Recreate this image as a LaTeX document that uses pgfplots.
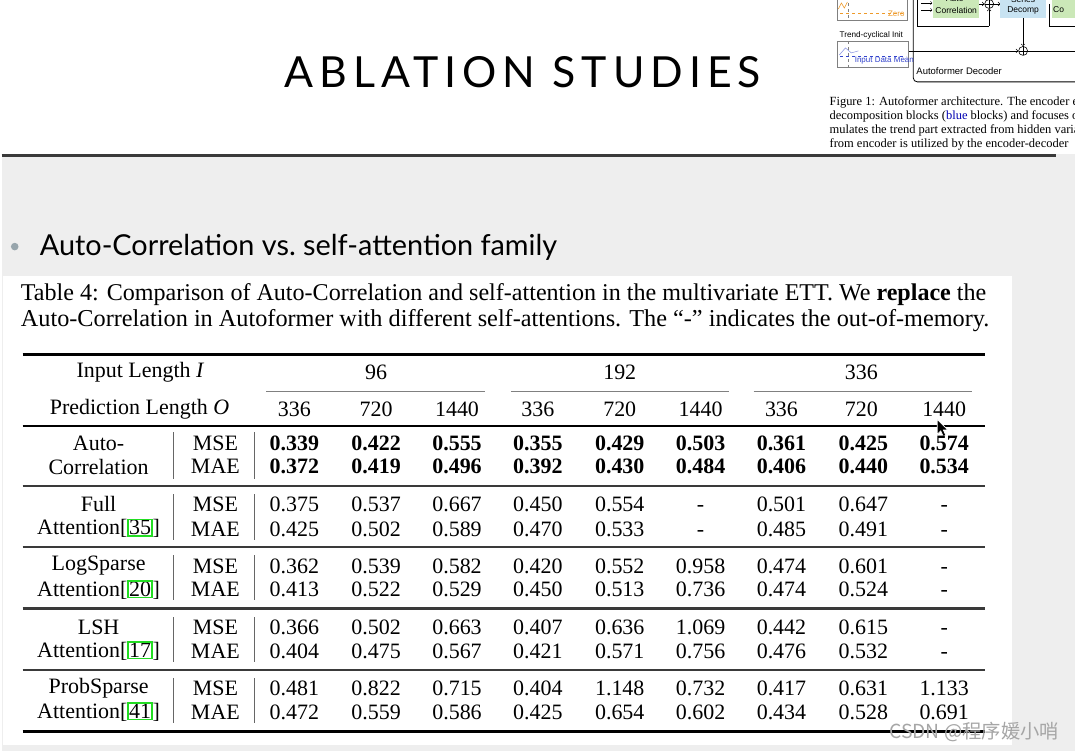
\documentclass[border=0pt]{standalone}
\usepackage{pgfplots}
\pgfplotsset{compat=1.18}
\usepackage{pgfplotstable}
\usepackage{fontspec}
\setmainfont{Liberation Serif}
\newfontfamily\gill{Lato}
\newfontfamily\hel{Liberation Sans}
\newfontfamily\cjk{Noto Sans CJK SC}

\definecolor{slidegray}{HTML}{EEEEEE}
\definecolor{rulegray}{HTML}{3A3A3A}
\definecolor{linkgreen}{HTML}{22DD22}
\definecolor{boxgreen}{HTML}{CBE8B8}
\definecolor{boxblue}{HTML}{C8E3F2}
\definecolor{zeroorange}{HTML}{EE9A2A}
\definecolor{meanblue}{HTML}{3344CC}
\definecolor{bulletgray}{HTML}{97A5AC}

\newcommand\tabfont{\fontsize{22}{24}\selectfont}
\newcommand\lnk[1]{{\setlength\fboxsep{0.3pt}\setlength\fboxrule{1.3pt}\fcolorbox{linkgreen}{white}{#1}}}

% table values: column x, row y, value
\pgfplotstableread{
x y v
293 444 0.339
375 444 0.422
456 444 0.555
537 444 0.355
619 444 0.429
700 444 0.503
781 444 0.361
863 444 0.425
944 444 0.574
293 467 0.372
375 467 0.419
456 467 0.496
537 467 0.392
619 467 0.430
700 467 0.484
781 467 0.406
863 467 0.440
944 467 0.534
}\autocorr

\pgfplotstableread{
x y v
293 505 0.375
375 505 0.537
456 505 0.667
537 505 0.450
619 505 0.554
700 505 -
781 505 0.501
863 505 0.647
944 505 -
293 530 0.425
375 530 0.502
456 530 0.589
537 530 0.470
619 530 0.533
700 530 -
781 530 0.485
863 530 0.491
944 530 -
293 567 0.362
375 567 0.539
456 567 0.582
537 567 0.420
619 567 0.552
700 567 0.958
781 567 0.474
863 567 0.601
944 567 -
293 590 0.413
375 590 0.522
456 590 0.529
537 590 0.450
619 590 0.513
700 590 0.736
781 590 0.474
863 590 0.524
944 590 -
293 628 0.366
375 628 0.502
456 628 0.663
537 628 0.407
619 628 0.636
700 628 1.069
781 628 0.442
863 628 0.615
944 628 -
293 652 0.404
375 652 0.475
456 652 0.567
537 652 0.421
619 652 0.571
700 652 0.756
781 652 0.476
863 652 0.532
944 652 -
293 689 0.481
375 689 0.822
456 689 0.715
537 689 0.404
619 689 1.148
700 689 0.732
781 689 0.417
863 689 0.631
944 689 1.133
293 713 0.472
375 713 0.559
456 713 0.586
537 713 0.425
619 713 0.654
700 713 0.602
781 713 0.434
863 713 0.528
944 713 0.691
}\others

\pgfplotstableread{
x y v
375 373 96
619 373 192
861 373 336
293 410 336
375 410 720
456 410 1440
537 410 336
619 410 720
700 410 1440
781 410 336
861 410 720
944 410 1440
}\header

\begin{document}
\begin{tikzpicture}
\begin{axis}[
  scale only axis, width=1075pt, height=752pt,
  xmin=0, xmax=1075, ymin=0, ymax=752, y dir=reverse,
  hide axis, clip=false,
  nodes near coords, point meta=explicit symbolic,
  every node near coord/.append style={anchor=center, inner sep=0pt, text height=14.9pt, text depth=0pt, font=\tabfont, text=black},
]
% backgrounds
\fill[slidegray] (0,0) rectangle (1075,752);
\fill[white] (0,0) rectangle (1075,154);
\fill[white] (1,276) rectangle (1012,746);
\draw[rulegray, line width=3.5pt] (0,155.5) -- (1056,155.5);

% title
\node at (522,72) {\resizebox{477pt}{!}{\gill\addfontfeature{LetterSpace=14}ABLATION STUDIES}};

% bullet
\fill[bulletgray] (13,247) circle (3.8);
\node[anchor=west, inner sep=0pt] at (38,248) {\resizebox{518pt}{!}{\gill Auto-Correlation vs.\ self-attention family}};

% caption
\node[anchor=west, inner sep=0pt] at (19,295) {\resizebox{967pt}{!}{Table 4: Comparison of Auto-Correlation and self-attention in the multivariate ETT. We \textbf{replace} the}};
\node[anchor=west, inner sep=0pt] at (19,321) {\resizebox{970pt}{!}{Auto-Correlation in Autoformer with different self-attentions. The “-” indicates the out-of-memory.}};

% rules
\draw[black, line width=3pt] (21,355) -- (985,355);
\draw[gray, line width=1.6pt] (265,392) -- (484,392);
\draw[gray, line width=1.6pt] (510,392) -- (728,392);
\draw[gray, line width=1.6pt] (753,392) -- (972,392);
\draw[black, line width=2.5pt] (21,426.5) -- (985,426.5);
\draw[rulegray, line width=2.2pt] (21,487) -- (985,487);
\draw[rulegray, line width=2.2pt] (21,548) -- (985,548);
\draw[rulegray, line width=2.2pt] (21,609.5) -- (985,609.5);
\draw[rulegray, line width=2.2pt] (21,671) -- (985,671);
\draw[black, line width=3pt] (21,733) -- (985,733);
\draw[gray!80!black, line width=1.4pt] (172,433) -- (172,480) (253,433) -- (253,480);
\draw[gray!80!black, line width=1.4pt] (172,495) -- (172,541) (253,495) -- (253,541);
\draw[gray!80!black, line width=1.4pt] (172,556) -- (172,601) (253,556) -- (253,601);
\draw[gray!80!black, line width=1.4pt] (172,618) -- (172,663) (253,618) -- (253,663);
\draw[gray!80!black, line width=1.4pt] (172,679) -- (172,724) (253,679) -- (253,724);

% header labels
\node[font=\tabfont] at (139,373) {Input Length \textit{I}};
\node[font=\tabfont] at (138,410) {Prediction Length \textit{O}};
\addplot[draw=none, mark=none] table[x=x, y=y, meta=v] {\header};

% row labels
\node[font=\tabfont] at (97,444) {Auto-};
\node[font=\tabfont] at (97,468) {Correlation};
\node[font=\tabfont] at (97,505) {Full};
\node[font=\tabfont] at (97,529) {Attention[\lnk{35}]};
\node[font=\tabfont] at (97,567) {LogSparse};
\node[font=\tabfont] at (97,591) {Attention[\lnk{20}]};
\node[font=\tabfont] at (97,628) {LSH};
\node[font=\tabfont] at (97,652) {Attention[\lnk{17}]};
\node[font=\tabfont] at (97,689) {ProbSparse};
\node[font=\tabfont] at (97,713) {Attention[\lnk{41}]};
\node[font=\tabfont] at (214,444) {MSE};
\node[font=\tabfont] at (214,467) {MAE};
\node[font=\tabfont] at (214,505) {MSE};
\node[font=\tabfont] at (214,530) {MAE};
\node[font=\tabfont] at (214,567) {MSE};
\node[font=\tabfont] at (214,590) {MAE};
\node[font=\tabfont] at (214,628) {MSE};
\node[font=\tabfont] at (214,652) {MAE};
\node[font=\tabfont] at (214,689) {MSE};
\node[font=\tabfont] at (214,713) {MAE};

% values
\addplot[draw=none, mark=none, every node near coord/.append style={font=\tabfont\bfseries}] table[x=x, y=y, meta=v] {\autocorr};
\addplot[draw=none, mark=none] table[x=x, y=y, meta=v] {\others};

% mouse cursor
\filldraw[black, draw=white, line width=0.6pt] (937,420) -- (937,435) -- (940.5,431.5) -- (943,437) -- (945.5,436) -- (943,430.5) -- (947.5,430.5) -- cycle;

% watermark
\node[inner sep=0pt, text=gray!70] at (974,733) {\resizebox{170pt}{!}{\cjk CSDN @程序媛小哨}};

% inset of the paper figure
\begin{scope}
\clip (828,0) rectangle (1075,153);
\draw[gray, line width=0.6pt] (837,-3) rectangle (907,20);
\draw[zeroorange, dashed, line width=0.7pt] (840,13) -- (905,13);
\draw[zeroorange, line width=0.6pt] (838,9) -- (841,3) -- (844,8) -- (847,2);
\draw[gray, dashed, line width=0.5pt] (848,-3) -- (848,20);
\node[text=zeroorange, font=\hel\fontsize{8}{9}\selectfont, inner sep=0pt] at (896,14) {Zero};
\fill[boxgreen] (933,-5) rectangle (979,18);
\node[font=\hel\fontsize{8.5}{9}\selectfont, inner sep=0pt] at (956,-1) {Auto-};
\node[font=\hel\fontsize{8.5}{9}\selectfont, inner sep=0pt] at (956,10) {Correlation};
\draw[->, line width=0.5pt] (921,3) -- (932,3);
\draw[->, line width=0.5pt] (921,10) -- (932,10);
\draw[line width=0.6pt] (989,4) circle (4.5);
\draw[line width=0.6pt] (984.5,4) -- (993.5,4) (989,-0.5) -- (989,8.5);
\draw[->, line width=0.6pt] (979,4) -- (984,4);
\draw[->, line width=0.6pt] (994,4) -- (1000,4);
\fill[boxblue] (1000,-5) rectangle (1046,18);
\node[font=\hel\fontsize{8.5}{9}\selectfont, inner sep=0pt] at (1023,-1) {Series};
\node[font=\hel\fontsize{8.5}{9}\selectfont, inner sep=0pt] at (1023,10) {Decomp};
\fill[boxgreen] (1052,-5) rectangle (1085,18);
\node[font=\hel\fontsize{8.5}{9}\selectfont, inner sep=0pt, anchor=west] at (1053,10) {Co};
\draw[line width=0.6pt] (917,-3) -- (917,26) -- (989,26);
\draw[->, line width=0.6pt] (989,26) -- (989,9);
\draw[line width=0.6pt] (1049,4) -- (1049,26) -- (1080,26);
\draw[->, line width=0.6pt] (1023,18) -- (1023,46);
\draw[line width=0.6pt] (1023,51) circle (4.5);
\draw[line width=0.6pt] (1018.5,51) -- (1027.5,51) (1023,46.5) -- (1023,55.5);
\draw[->, line width=0.6pt] (908,51) -- (1018,51);
\draw[line width=0.6pt] (1028,51) -- (1080,51);
\draw[line width=0.8pt, rounded corners=4pt] (913,-20) -- (913,82) -- (1090,82);
\node[font=\hel\fontsize{8.2}{9}\selectfont, inner sep=0pt] at (871,35) {Trend-cyclical Init};
\draw[gray, line width=0.6pt] (837,41) rectangle (908,67);
\draw[meanblue!60, line width=0.5pt] (839,55) -- (845,48) -- (851,53) -- (858,51);
\draw[meanblue, dashed, line width=0.6pt] (840,56) -- (906,56);
\draw[gray, dashed, line width=0.5pt] (848,41) -- (848,67);
\node[text=meanblue, font=\hel\fontsize{8}{9}\selectfont, inner sep=0pt] at (884,61) {Input Data Mean};
\node[anchor=west, font=\hel\fontsize{9.5}{10}\selectfont, inner sep=0pt] at (916,71) {Autoformer Decoder};
\node[anchor=west, font=\fontsize{12.5}{13}\selectfont, inner sep=0pt] at (829,103) {Figure 1: Autoformer architecture. The encoder eliminates};
\node[anchor=west, font=\fontsize{12.5}{13}\selectfont, inner sep=0pt] at (829,117) {decomposition blocks (\textcolor{blue!70!black}{blue} blocks) and focuses on};
\node[anchor=west, font=\fontsize{12.5}{13}\selectfont, inner sep=0pt] at (829,131) {mulates the trend part extracted from hidden variables};
\node[anchor=west, font=\fontsize{12.5}{13}\selectfont, inner sep=0pt] at (829,145) {from encoder is utilized by the encoder-decoder};
\end{scope}
\end{axis}
\end{tikzpicture}
\end{document}
